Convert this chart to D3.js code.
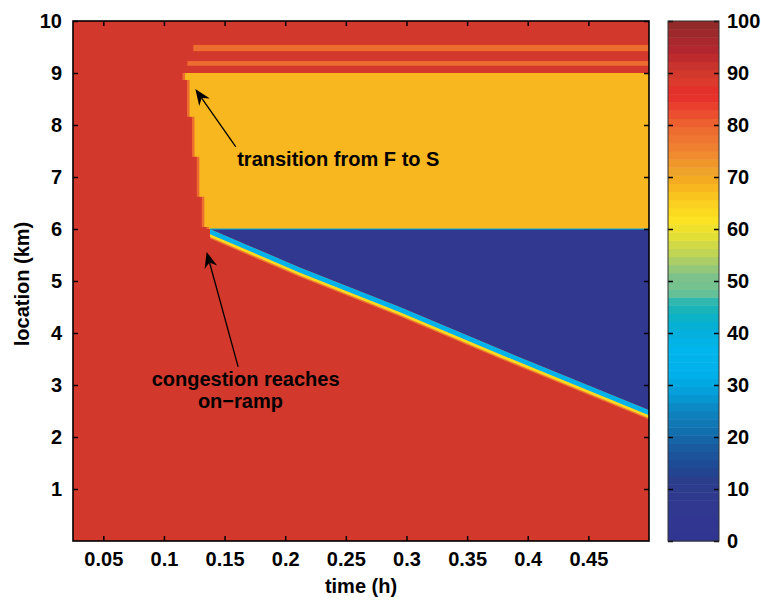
<!DOCTYPE html>
<head>
  <meta charset="utf-8">
  <style>
    body { margin: 0; background: #fff; }
    text {
      font-family: 'Liberation Sans', Arial, Helvetica, sans-serif;
      font-weight: bold;
      font-size: 20px;
      fill: #000;
    }
    .axis line { stroke: #000; stroke-width: 1.5; }
    .axis path { display: none; }
  </style>
</head>

<body>
  <script src="https://cdn.jsdelivr.net/npm/d3@7"></script>

  <script>
    // ---- data ----
    const timeDomain = [0.025, 0.5];          // h
    const locDomain = [0, 10];                // km
    const speedDomain = [0, 100];             // km/h
    const timeTicks = [0.05, 0.1, 0.15, 0.2, 0.25, 0.3, 0.35, 0.4, 0.45];
    const locTicks = [1, 2, 3, 4, 5, 6, 7, 8, 9, 10];
    const speedTicks = [0, 10, 20, 30, 40, 50, 60, 70, 80, 90, 100];

    // speeds of the flat regions (km/h)
    const freeFlowSpeed = 89.5;
    const syncSpeed = 68;
    const jamSpeed = 5;
    const stripeSpeed = 79;
    const edgeSpeed = 79;

    // F -> S transition, left edge of synchronized flow (staircase)
    const transitionTime = [0.1174, 0.1211, 0.1252, 0.1292, 0.1333, 0.1372];
    const transitionLoc = [9.0, 8.865, 8.16, 7.39, 6.62, 6.04, 6.0];
    const upperLoc = 9.0;
    const onRampLoc = 6.0;
    const edgeWidth = 0.0021;   // h, width of the orange rim

    // faint stripes above the bottleneck
    const stripeStart = [0.1242, 0.1193];
    const stripeLow = [9.42, 9.14];
    const stripeHigh = [9.54, 9.23];

    // upstream front of the wide jam (lower edge of the blue wedge)
    const frontTime = [0.138, 0.2122, 0.2947, 0.3771, 0.5];
    const frontLoc = [6.0, 5.26, 4.50, 3.69, 2.52];
    // layers just below the front: depth under the front (km) and speed
    const layerDepth = [0.185, 0.155, 0.1];
    const layerSpeed = [78, 63, 34];
    const seamSpeed = 40;

    // colormap anchors
    const cmapValue = [0, 8, 12, 14, 18, 21, 25, 28, 32, 37, 41, 44, 46, 48, 51, 55, 59, 62, 66, 69, 71, 75, 80, 83, 86, 88, 90, 92, 94, 97, 100];
    const cmapColor = ["#313592", "#30398f", "#2b3e8c", "#1f4793", "#1a5ba0", "#126fad", "#0d84c0", "#069bd6", "#00b0ea", "#00b5ec", "#05b0d9", "#10b3bd", "#2db7b2", "#70c291", "#7ec28a", "#bcd35a", "#e6e033", "#fde221", "#fbc81f", "#f6ad1f", "#f0a42a", "#f08530", "#ec6530", "#ea452f", "#e62a2a", "#de3a2c", "#d1392c", "#c4302e", "#b5262f", "#a2292d", "#8b2b27"];
    const nLevels = 64;

    // annotations (data coords)
    const arrows = [
      { tail: [0.1593, 7.58], tip: [0.1259, 8.69] },
      { tail: [0.1612, 3.35], tip: [0.1352, 5.56] }
    ];
    const notes = [
      { text: "transition from F to S", t: 0.1604, loc: 7.21 },
      { text: "congestion reaches", t: 0.0899, loc: 2.98 },
      { text: "on\u2212ramp", t: 0.128, loc: 2.56 }
    ];

    // ---- layout ----
    const width = 761, height = 600;
    const plot = { left: 73, top: 21, width: 576, height: 520 };
    const cbar = { left: 668, width: 51 };

    const x = d3.scaleLinear().domain(timeDomain).range([plot.left, plot.left + plot.width]);
    const y = d3.scaleLinear().domain(locDomain).range([plot.top + plot.height, plot.top]);
    const cy = d3.scaleLinear().domain(speedDomain).range([plot.top + plot.height, plot.top]);
    const cmap = d3.scaleLinear().domain(cmapValue).range(cmapColor).interpolate(d3.interpolateRgb);
    const step = (speedDomain[1] - speedDomain[0]) / nLevels;
    function bandColor(v) {
      const i = Math.max(0, Math.min(nLevels - 1, Math.floor(v / step)));
      return cmap((i + 0.5) * step);
    }

    const svg = d3.select("body").append("svg")
      .attr("width", width).attr("height", height);

    svg.append("clipPath").attr("id", "plotclip")
      .append("rect")
      .attr("x", plot.left).attr("y", plot.top)
      .attr("width", plot.width).attr("height", plot.height);

    const field = svg.append("g").attr("clip-path", "url(#plotclip)");
    const line = d3.line().x(d => x(d[0])).y(d => y(d[1]));
    const poly = pts => line(pts) + "Z";

    // free flow background
    field.append("rect")
      .attr("x", x(timeDomain[0])).attr("y", y(locDomain[1]))
      .attr("width", x(timeDomain[1]) - x(timeDomain[0]))
      .attr("height", y(locDomain[0]) - y(locDomain[1]))
      .attr("fill", bandColor(freeFlowSpeed));

    // stripes
    for (let i = 0; i < stripeStart.length; ++i) {
      field.append("rect")
        .attr("x", x(stripeStart[i])).attr("y", y(stripeHigh[i]))
        .attr("width", x(timeDomain[1]) - x(stripeStart[i]))
        .attr("height", y(stripeLow[i]) - y(stripeHigh[i]))
        .attr("fill", bandColor(stripeSpeed));
    }

    // synchronized flow region
    function syncPoly(shift) {
      const pts = [[transitionTime[0] - shift, upperLoc], [timeDomain[1], upperLoc], [timeDomain[1], onRampLoc]];
      for (let i = transitionTime.length - 1; i >= 0; --i) {
        pts.push([transitionTime[i] - shift, transitionLoc[i + 1]]);
        pts.push([transitionTime[i] - shift, transitionLoc[i]]);
      }
      return pts;
    }
    field.append("path").attr("d", poly(syncPoly(edgeWidth))).attr("fill", bandColor(edgeSpeed));
    field.append("path").attr("d", poly(syncPoly(0))).attr("fill", bandColor(syncSpeed));

    // layers under the jam front
    const front = frontTime.map((t, i) => [t, frontLoc[i]]);
    layerDepth.forEach((dep, k) => {
      const lower = front.map(p => [p[0], p[1] - dep]).reverse();
      field.append("path").attr("d", poly(front.concat(lower))).attr("fill", bandColor(layerSpeed[k]));
    });

    // wide jam
    const jam = [[frontTime[0], onRampLoc], [timeDomain[1], onRampLoc]].concat(front.slice().reverse());
    field.append("path").attr("d", poly(jam)).attr("fill", bandColor(jamSpeed));
    field.append("path")
      .attr("d", line([[frontTime[0], onRampLoc], [timeDomain[1], onRampLoc]]))
      .attr("stroke", bandColor(seamSpeed)).attr("stroke-width", 1).attr("fill", "none");

    // ---- axes ----
    svg.append("g").attr("class", "axis")
      .attr("transform", `translate(0,${plot.top + plot.height})`)
      .call(d3.axisBottom(x).tickValues(timeTicks).tickSize(-5).tickPadding(11).tickFormat(d3.format("")));
    svg.append("g").attr("class", "axis")
      .attr("transform", `translate(0,${plot.top})`)
      .call(d3.axisTop(x).tickValues(timeTicks).tickSize(-5).tickFormat(""));
    svg.append("g").attr("class", "axis")
      .attr("transform", `translate(${plot.left},0)`)
      .call(d3.axisLeft(y).tickValues(locTicks).tickSize(-5).tickPadding(11));
    svg.append("g").attr("class", "axis")
      .attr("transform", `translate(${plot.left + plot.width},0)`)
      .call(d3.axisRight(y).tickValues(locTicks).tickSize(-5).tickFormat(""));
    svg.selectAll(".axis text").attr("font-size", null).attr("font-family", null);

    svg.append("rect")
      .attr("x", plot.left).attr("y", plot.top)
      .attr("width", plot.width).attr("height", plot.height)
      .attr("fill", "none").attr("stroke", "#000").attr("stroke-width", 1.6);

    svg.append("text")
      .attr("x", plot.left + plot.width / 2).attr("y", 592.5)
      .attr("text-anchor", "middle").text("time (h)");
    svg.append("text")
      .attr("transform", `translate(29,${plot.top + plot.height / 2 + 3}) rotate(-90)`)
      .attr("text-anchor", "middle").text("location (km)");

    // ---- annotations ----
    const ann = svg.append("g");
    arrows.forEach(a => {
      const x0 = x(a.tail[0]), y0 = y(a.tail[1]), x1 = x(a.tip[0]), y1 = y(a.tip[1]);
      const len = Math.hypot(x1 - x0, y1 - y0);
      const ux = (x1 - x0) / len, uy = (y1 - y0) / len;
      const L = 16, W = 6.5, N = 11;
      ann.append("line")
        .attr("x1", x0).attr("y1", y0)
        .attr("x2", x1 - ux * N).attr("y2", y1 - uy * N)
        .attr("stroke", "#000").attr("stroke-width", 1.3);
      const bx = x1 - ux * L, by = y1 - uy * L;
      ann.append("path")
        .attr("d", `M${x1},${y1}L${bx - uy * W},${by + ux * W}L${x1 - ux * N},${y1 - uy * N}L${bx + uy * W},${by - ux * W}Z`)
        .attr("fill", "#000");
    });
    notes.forEach(n => {
      ann.append("text").attr("x", x(n.t)).attr("y", y(n.loc)).text(n.text);
    });

    // ---- colorbar ----
    const cb = svg.append("g");
    d3.range(nLevels).forEach(i => {
      cb.append("rect")
        .attr("x", cbar.left).attr("width", cbar.width)
        .attr("y", cy((i + 1) * step)).attr("height", cy(i * step) - cy((i + 1) * step) + 0.5)
        .attr("fill", bandColor((i + 0.5) * step));
    });
    svg.append("g").attr("class", "axis")
      .attr("transform", `translate(${cbar.left + cbar.width},0)`)
      .call(d3.axisRight(cy).tickValues(speedTicks).tickSize(-5).tickPadding(8));
    svg.append("g").attr("class", "axis")
      .attr("transform", `translate(${cbar.left},0)`)
      .call(d3.axisLeft(cy).tickValues(speedTicks).tickSize(-5).tickFormat(""));
    svg.selectAll(".axis text").attr("font-size", null).attr("font-family", null);
    svg.append("rect")
      .attr("x", cbar.left).attr("y", plot.top)
      .attr("width", cbar.width).attr("height", plot.height)
      .attr("fill", "none").attr("stroke", "#333").attr("stroke-width", 1);
  </script>
</body>
